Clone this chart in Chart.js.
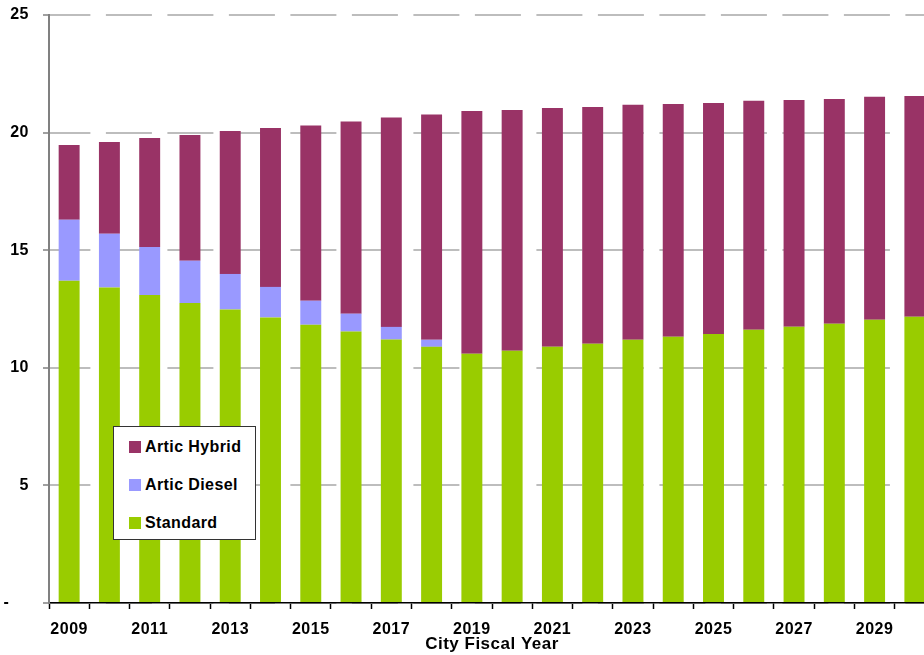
<!DOCTYPE html>
<html>
<head>
<meta charset="utf-8">
<script src="https://cdn.jsdelivr.net/npm/chart.js@4"></script>
<style>
    html, body { margin: 0; padding: 0; overflow: hidden; background: #fff; }
    #wrap { position: relative; width: 936px; height: 655px; }
    #legend {
        position: absolute; left: 113px; top: 426px; width: 141px; height: 112px;
        border: 1.5px solid #333; background: #fff;
        font: bold 16px "Liberation Sans", Arial, sans-serif; color: #000; letter-spacing: 0.4px;
    }
    #legend .item { position: absolute; left: 15px; display: flex; align-items: center; height: 18px; line-height: 18px; }
    #legend .swatch { width: 12px; height: 12px; margin-right: 4px; }
</style>
</head>
<body>
<div id="wrap">
    <canvas id="busChart"></canvas>
    <div id="legend"></div>
</div>
<script>
const years = ['2009', '2010', '2011', '2012', '2013', '2014', '2015', '2016', '2017', '2018', '2019',
    '2020', '2021', '2022', '2023', '2024', '2025', '2026', '2027', '2028', '2029', '2030'];

const standard = [13.70, 13.41, 13.10, 12.76, 12.48, 12.14, 11.83, 11.54, 11.20, 10.89, 10.60,
    10.72, 10.89, 11.02, 11.19, 11.32, 11.44, 11.62, 11.75, 11.87, 12.04, 12.17];

const articDiesel = [2.59, 2.29, 2.04, 1.79, 1.51, 1.30, 1.02, 0.76, 0.54, 0.30, 0,
    0, 0, 0, 0, 0, 0, 0, 0, 0, 0, 0];

const articHybrid = [3.18, 3.90, 4.63, 5.35, 6.08, 6.76, 7.45, 8.17, 8.90, 9.58, 10.32,
    10.24, 10.16, 10.07, 9.99, 9.90, 9.82, 9.73, 9.64, 9.56, 9.48, 9.39];

const yTicks = [0, 5, 10, 15, 20, 25];

document.addEventListener('DOMContentLoaded', function () {
    const labelFont = { family: '"Liberation Sans", Arial, sans-serif', size: 16, weight: 'bold' };
    const ctx = document.getElementById('busChart').getContext('2d');

    // slightly wider lettering, like the original export
    const spacingPlugin = {
        id: 'spacing',
        beforeDraw: chart => { chart.ctx.letterSpacing = '0.5px'; },
        afterDraw: chart => { chart.ctx.letterSpacing = '0px'; }
    };

    const busChart = new Chart(ctx, {
        type: 'bar',
        data: {
            labels: years,
            datasets: [
                { label: 'Standard', data: standard, backgroundColor: '#99CC00' },
                { label: 'Artic Diesel', data: articDiesel, backgroundColor: '#9999FF' },
                { label: 'Artic Hybrid', data: articHybrid, backgroundColor: '#993366' }
            ]
        },
        plugins: [spacingPlugin],
        options: {
            responsive: true,
            maintainAspectRatio: false,
            animation: false,
            layout: { padding: { top: 15, right: 1, left: 0, bottom: 0 } },
            datasets: { bar: { categoryPercentage: 1, barPercentage: 0.52 } },
            plugins: {
                legend: { display: false },
                tooltip: { enabled: false }
            },
            scales: {
                x: {
                    stacked: true,
                    grid: { drawOnChartArea: false, tickLength: 6, tickColor: '#000', tickWidth: 1.5, offset: true },
                    border: { color: '#000', width: 1.5 },
                    ticks: {
                        autoSkip: false,
                        maxRotation: 0,
                        padding: 11,
                        color: '#000',
                        font: labelFont,
                        callback: (v, i) => i % 2 === 0 ? years[i] : ''
                    },
                    title: {
                        display: true,
                        text: 'City Fiscal Year',
                        color: '#000',
                        font: { family: labelFont.family, size: 17, weight: 'bold' },
                        padding: { top: 0, bottom: 0 }
                    },
                    afterFit: s => { s.height = 52; }
                },
                y: {
                    stacked: true,
                    min: 0,
                    max: 25,
                    afterBuildTicks: s => { s.ticks = yTicks.map(v => ({ value: v })); },
                    grid: { color: '#bdbdbd', lineWidth: 2, tickLength: 6, tickColor: '#808080', tickWidth: 1.5 },
                    border: { color: '#808080', width: 2, dash: [46, 15.5], dashOffset: 5.6 },
                    ticks: {
                        padding: 14,
                        color: '#000',
                        font: labelFont,
                        callback: v => v === 0 ? '-    ' : v
                    },
                    afterFit: s => {
                        s.width = 49;
                        s.paddingTop = 0;
                        s.paddingBottom = 0;
                    }
                }
            }
        }
    });

    // legend box drawn over the plot, top item = top of stack
    const legend = document.getElementById('legend');
    const tops = [11, 49, 87];
    busChart.data.datasets.slice().reverse().forEach((ds, i) => {
        const item = document.createElement('div');
        item.className = 'item';
        item.style.top = tops[i] + 'px';
        item.innerHTML = '<span class="swatch" style="background:' + ds.backgroundColor + '"></span>' + ds.label;
        legend.appendChild(item);
    });
});
</script>
</body>
</html>
